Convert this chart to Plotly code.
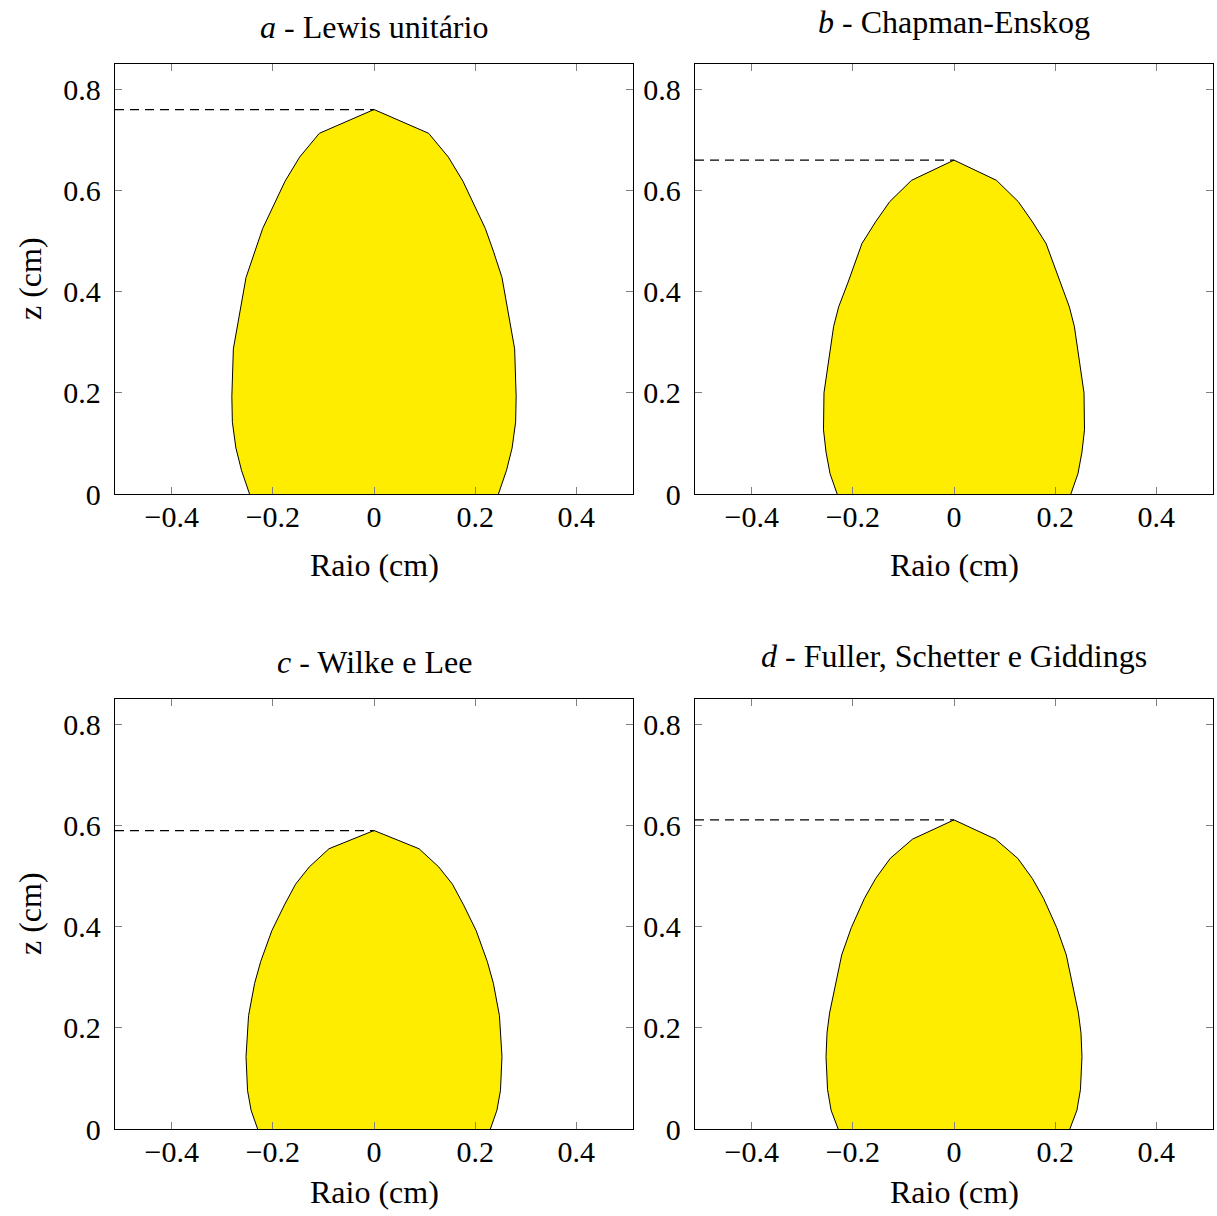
import plotly.graph_objects as go

# ---- data: half-profiles of the flame (height z, radius r), in cm ----
z_a = [0, 0.047, 0.091, 0.142, 0.193, 0.287, 0.428, 0.480, 0.525, 0.618, 0.666, 0.713, 0.760]
r_a = [0.246, 0.262, 0.273, 0.280, 0.281, 0.278, 0.253, 0.236, 0.220, 0.176, 0.147, 0.108, 0.0]

z_b = [0, 0.040, 0.083, 0.127, 0.200, 0.239, 0.331, 0.370, 0.417, 0.495, 0.538, 0.578, 0.620, 0.660]
r_b = [0.231, 0.245, 0.253, 0.258, 0.257, 0.251, 0.238, 0.228, 0.210, 0.182, 0.155, 0.127, 0.084, 0.0]

z_c = [0, 0.037, 0.076, 0.143, 0.224, 0.288, 0.331, 0.392, 0.443, 0.484, 0.518, 0.554, 0.590]
r_c = [0.230, 0.243, 0.250, 0.253, 0.248, 0.236, 0.224, 0.202, 0.177, 0.155, 0.128, 0.089, 0.0]

z_d = [0, 0.037, 0.078, 0.143, 0.190, 0.229, 0.344, 0.398, 0.456, 0.495, 0.535, 0.573, 0.611]
r_d = [0.229, 0.243, 0.250, 0.253, 0.251, 0.246, 0.222, 0.203, 0.177, 0.155, 0.126, 0.082, 0.0]

titles = ["<i>a</i> - Lewis unitário", "<i>b</i> - Chapman-Enskog",
          "<i>c</i> - Wilke e Lee", "<i>d</i> - Fuller, Schetter e Giddings"]

x_tickvals = [-0.4, -0.2, 0, 0.2, 0.4]
x_ticktext = ["\u22120.4", "\u22120.2", "0", "0.2", "0.4"]
y_tickvals = [0, 0.2, 0.4, 0.6, 0.8]
y_ticktext = ["0", "0.2", "0.4", "0.6", "0.8"]

x_label = "Raio (cm)"
y_label = "z (cm)"

# ---- layout geometry ----
W, H = 1217, 1216
HP = 1199  # effective paper height used for pixel->paper mapping
XMIN, XMAX = -0.512, 0.512
YMIN, YMAX = 0.0, 0.85
FONT = "Liberation Serif"
FS = 30
FS_TXT = 32
YELLOW = "rgb(255,237,0)"


def py2paper(py):
    return 1 - py / HP


panels = [
    # (z, r, x-pixel range, y-pixel range, title y, x-label y)
    (z_a, r_a, (115, 633), (64, 494), 27, 565),
    (z_b, r_b, (695, 1213), (64, 494), 22, 565),
    (z_c, r_c, (115, 633), (699, 1129), 662, 1192),
    (z_d, r_d, (695, 1213), (699, 1129), 656, 1192),
]

fig = go.Figure()
annotations = []
layout_axes = {}

for i, (z, r, (px0, px1), (py0, py1), ty, ly) in enumerate(panels):
    n = i + 1
    xa = "x" if n == 1 else f"x{n}"
    ya = "y" if n == 1 else f"y{n}"
    xs = [-v for v in r] + [v for v in r[::-1]]
    ys = list(z) + list(z[::-1])
    fig.add_trace(go.Scatter(
        x=xs, y=ys, mode="lines", fill="toself", fillcolor=YELLOW,
        line=dict(color="black", width=1), xaxis=xa, yaxis=ya,
        showlegend=False, hoverinfo="skip"))
    zmax = max(z)
    fig.add_trace(go.Scatter(
        x=[XMIN, 0], y=[zmax, zmax], mode="lines",
        line=dict(color="black", width=1.2, dash="9px,6px"),
        xaxis=xa, yaxis=ya, showlegend=False, hoverinfo="skip"))

    xkey = "xaxis" if n == 1 else f"xaxis{n}"
    ykey = "yaxis" if n == 1 else f"yaxis{n}"
    layout_axes[xkey] = dict(
        domain=[px0 / W, px1 / W], range=[XMIN, XMAX], anchor=ya,
        tickvals=x_tickvals, ticktext=x_ticktext, ticks="inside", ticklen=7,
        tickcolor="rgb(128,128,128)", tickwidth=1,
        showline=True, linecolor="black", linewidth=1.3, mirror="ticks",
        showgrid=False, zeroline=False, fixedrange=True,
        tickfont=dict(family=FONT, size=FS, color="black"),
        ticklabelstandoff=-4)
    layout_axes[ykey] = dict(
        domain=[py2paper(py1), py2paper(py0)], range=[YMIN, YMAX], anchor=xa,
        tickvals=y_tickvals, ticktext=y_ticktext, ticks="inside", ticklen=7,
        tickcolor="rgb(128,128,128)", tickwidth=1,
        showline=True, linecolor="black", linewidth=1.3, mirror="ticks",
        showgrid=False, zeroline=False, fixedrange=True,
        tickfont=dict(family=FONT, size=FS, color="black"),
        ticklabelstandoff=7)

    cx = (px0 + px1) / 2
    annotations.append(dict(
        text=titles[i], x=cx / W, y=py2paper(ty), xref="paper", yref="paper",
        xanchor="center", yanchor="middle", showarrow=False,
        font=dict(family=FONT, size=FS_TXT, color="black")))
    annotations.append(dict(
        text=x_label, x=cx / W, y=py2paper(ly), xref="paper", yref="paper",
        xanchor="center", yanchor="middle", showarrow=False,
        font=dict(family=FONT, size=FS_TXT, color="black")))
    if px0 < 300:
        annotations.append(dict(
            text=y_label, x=30 / W, y=py2paper((py0 + py1) / 2),
            xref="paper", yref="paper", xanchor="center", yanchor="middle",
            textangle=-90, showarrow=False,
            font=dict(family=FONT, size=FS_TXT, color="black")))

fig.update_layout(
    width=W, height=H, margin=dict(l=0, r=0, t=0, b=0),
    paper_bgcolor="white", plot_bgcolor="white",
    annotations=annotations, showlegend=False, **layout_axes)

fig.write_html("out.html", config={"displayModeBar": False})
